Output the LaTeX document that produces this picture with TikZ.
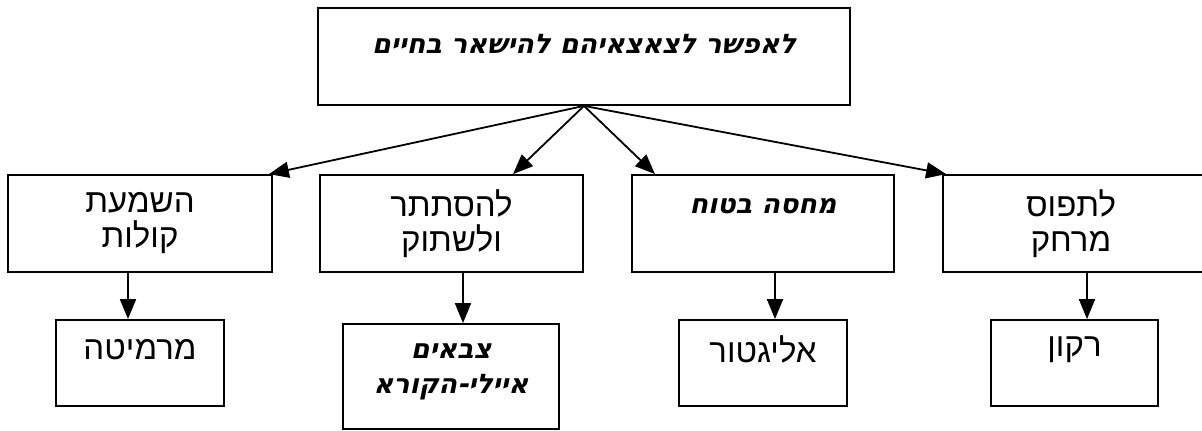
\documentclass[tikz,border=0pt]{standalone}
\usepackage{fontspec}
\setmainfont{Liberation Sans}
\newfontfamily\hebfont[Script=Hebrew]{Liberation Sans}
\newfontfamily\cursivefont[Script=Hebrew,FakeSlant=0.2]{DejaVu Sans Bold}
\TeXXeTstate=1
\usepackage{tikz}
\usetikzlibrary{arrows.meta}
\newcommand{\heb}[1]{{\hebfont\beginR #1\endR}}
\newcommand{\hebit}[1]{{\cursivefont\beginR #1\endR}}
\tikzset{
  box/.style={draw, line width=1.8pt, inner sep=0pt},
  lbl/.style={align=center, inner sep=0pt, font=\fontsize{33}{35}\selectfont},
  itlbl/.style={align=center, inner sep=0pt, font=\fontsize{27}{35}\selectfont},
  arr/.style={line width=1.8pt, -{Triangle[length=20pt,width=16pt]}},
}

\begin{document}
\begin{tikzpicture}[x=1pt, y=-1pt]
  \useasboundingbox (0,0) rectangle (1202,431);
  % goal
  \node[box, minimum width=532pt, minimum height=97pt] (goal) at (584,56.5) {};
  \node[itlbl] (goal-t) at (584,44) {\hebit{לאפשר לצאצאיהם להישאר בחיים}};
  % strategies
  \node[box, minimum width=264pt, minimum height=97pt] (noise) at (140,223.5) {};
  \node[box, minimum width=263pt, minimum height=97pt] (hide) at (451.5,223.5) {};
  \node[box, minimum width=262pt, minimum height=97pt] (shelter) at (763,223.5) {};
  \node[box, minimum width=263pt, minimum height=97pt] (flee) at (1074.5,223.5) {};
  \node[lbl] (noise-t) at (140,223) {\heb{השמעת}\\\heb{קולות}};
  \node[lbl] (hide-t) at (451.5,224) {\heb{להסתתר}\\\heb{ולשתוק}};
  \node[itlbl] (shelter-t) at (763,206) {\hebit{מחסה בטוח}};
  \node[lbl] (flee-t) at (1071,224) {\heb{לתפוס}\\\heb{מרחק}};
  % animals
  \node[box, minimum width=168pt, minimum height=86pt] (meerkat) at (140,363) {};
  \node[box, minimum width=216pt, minimum height=105pt] (deer) at (451,376.5) {};
  \node[box, minimum width=168pt, minimum height=86pt] (gator) at (763,363) {};
  \node[box, minimum width=167pt, minimum height=86pt] (racoon) at (1074.5,363) {};
  \node[lbl] (meerkat-t) at (140,350) {\heb{מרמיטה}};
  \node[itlbl] (deer-t) at (451,372) {\hebit{צבאים}\\\hebit{איילי-הקורא}};
  \node[lbl] (gator-t) at (763,349) {\heb{אליגטור}};
  \node[lbl] (racoon-t) at (1074.5,350) {\heb{רקון}};
  % connectors
  \draw[arr] (goal.south) -- ([xshift=-4pt]noise.north east);
  \draw[arr] (goal.south) -- ([xshift=61.5pt]hide.north);
  \draw[arr] (goal.south) -- ([xshift=-108pt]shelter.north);
  \draw[arr] (goal.south) -- ([xshift=4pt]flee.north west);
  \draw[arr] ([xshift=-12pt]noise.south) -- ([xshift=-12pt]noise.south |- meerkat.north);
  \draw[arr] ([xshift=11.5pt]hide.south) -- ([xshift=11.5pt]hide.south |- deer.north);
  \draw[arr] ([xshift=12pt]shelter.south) -- ([xshift=12pt]shelter.south |- gator.north);
  \draw[arr] ([xshift=12.5pt]flee.south) -- ([xshift=12.5pt]flee.south |- racoon.north);
\end{tikzpicture}
\end{document}
